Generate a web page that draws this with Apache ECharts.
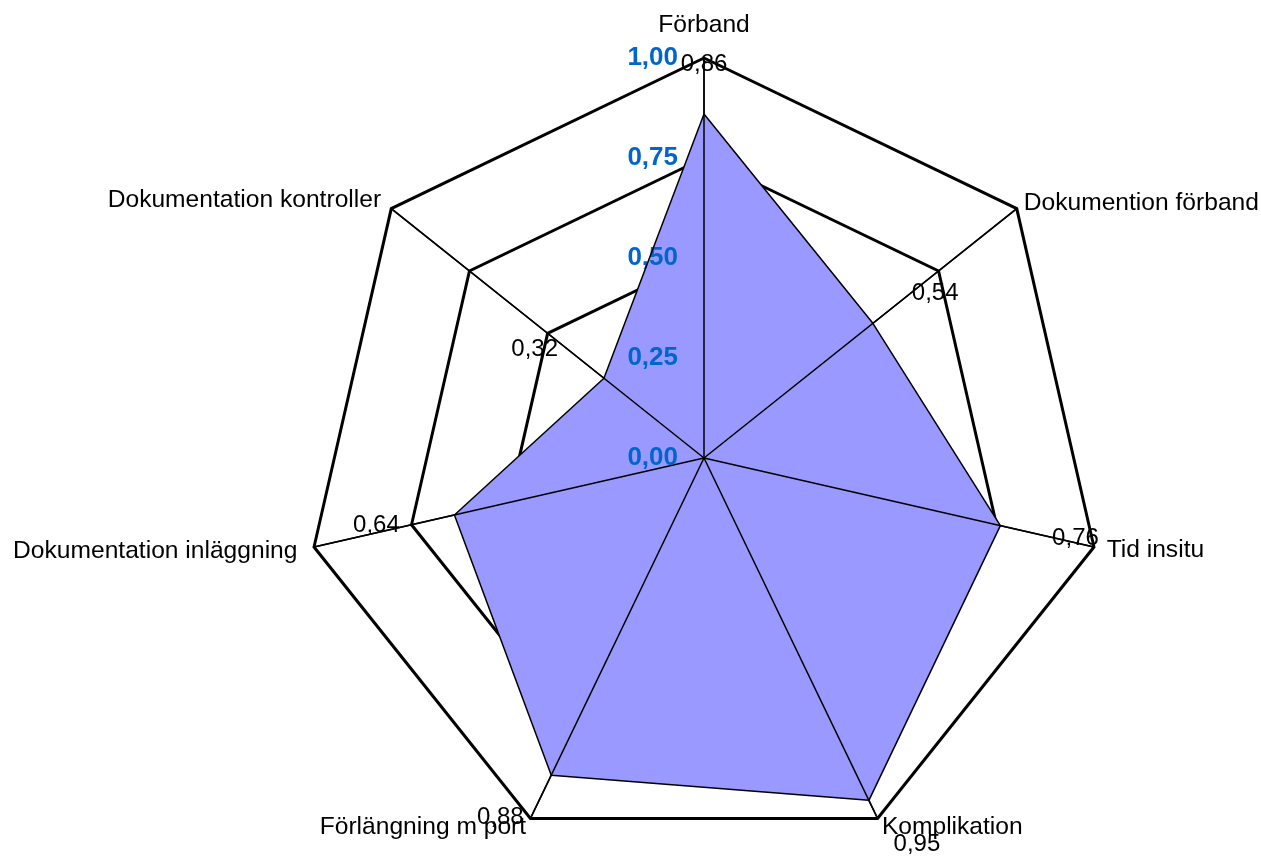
<!DOCTYPE html>
<html>
<head>
<meta charset="utf-8">
<script src="https://cdn.jsdelivr.net/npm/echarts@6/dist/echarts.min.js"></script>
<style>html,body{margin:0;padding:0;background:#fff}#c{width:1261px;height:856px}</style>
</head>
<body>
<div id="c"></div>
<script>
// Categories in clockwise order starting at the top
const categories = ['Förband', 'Dokumention förband', 'Tid insitu', 'Komplikation', 'Förlängning m port', 'Dokumentation inläggning', 'Dokumentation kontroller'];
const values = [0.86, 0.54, 0.76, 0.95, 0.88, 0.64, 0.32];
// Radial position (in value units) where each value label is anchored
const labelRadius = [0.985, 0.72, 0.95, 1.10, 1.03, 0.84, 0.50];
const tickLabels = ['0,00', '0,25', '0,50', '0,75', '1,00'];

// ---- styling (not data) ----
const font = 'Liberation Sans, Arial, sans-serif';
const nameGaps = [20, 9, 13, 10, 10, 17, 13];
const labelOffsets = [[0, 0], [6, 15], [1, -4], [22, -10], [-25, -12], [0, -7], [-13, 16]];

// ECharts lays out radar axes counter-clockwise; reorder to get clockwise
const order = [0].concat(categories.map((_, i) => i).slice(1).reverse());

const indicatorMain = order.map(i => ({ name: categories[i], min: 0, max: 1, nameGap: nameGaps[i] }));
const indicatorTop = order.map((i, k) => {
  const ind = { name: categories[i], min: 0, max: 1 };
  if (k === 0) ind.axisLabel = { show: true };
  return ind;
});

const common = { center: [704, 458], radius: 400, startAngle: 90, shape: 'polygon', splitNumber: 4 };

const labelSeries = categories.map((c, i) => ({
  type: 'radar',
  radarIndex: 0,
  z: 5,
  symbol: 'circle',
  symbolSize: 1,
  silent: true,
  itemStyle: { color: 'rgba(0,0,0,0)' },
  lineStyle: { opacity: 0, width: 0 },
  label: {
    show: true,
    position: 'inside',
    offset: labelOffsets[i],
    color: '#000',
    fontSize: 24,
    fontFamily: font,
    formatter: p => (p.value === labelRadius[i] ? values[i].toFixed(2).replace('.', ',') : '')
  },
  data: [{ value: order.map(j => (j === i ? labelRadius[i] : 0)) }]
}));

const dataValues = order.map(i => values[i]);

const chart = echarts.init(document.getElementById('c'));
chart.setOption({
  animation: false,
  backgroundColor: '#fff',
  radar: [Object.assign({}, common, {
    indicator: indicatorMain,
    axisName: { color: '#000', fontSize: 24.6, fontFamily: font },
    nameGap: 10,
    splitArea: { show: false },
    splitLine: { lineStyle: { color: '#000', width: 3 } },
    axisLine: { lineStyle: { color: '#000', width: 1.5 } },
    axisTick: { show: false },
    axisLabel: { show: false }
  }), Object.assign({}, common, {
    z: 3,
    indicator: indicatorTop,
    axisName: { show: false },
    splitArea: { show: false },
    splitLine: { show: false },
    axisLine: { lineStyle: { color: '#000', width: 1.5 } },
    axisTick: { show: false },
    axisLabel: {
      show: false,
      color: '#0066CC',
      fontWeight: 'bold',
      fontSize: 26,
      fontFamily: font,
      margin: 26,
      formatter: v => tickLabels[Math.round(v * 4)]
    }
  })],
  series: [{
    type: 'radar',
    radarIndex: 0,
    z: 2,
    symbol: 'none',
    lineStyle: { width: 0, opacity: 0 },
    areaStyle: { color: '#9999FF', opacity: 1 },
    data: [{ value: dataValues }]
  }, {
    type: 'radar',
    radarIndex: 0,
    z: 4,
    symbol: 'none',
    silent: true,
    lineStyle: { color: '#000', width: 1.5, opacity: 1 },
    data: [{ value: dataValues }]
  }].concat(labelSeries)
});
</script>
</body>
</html>
